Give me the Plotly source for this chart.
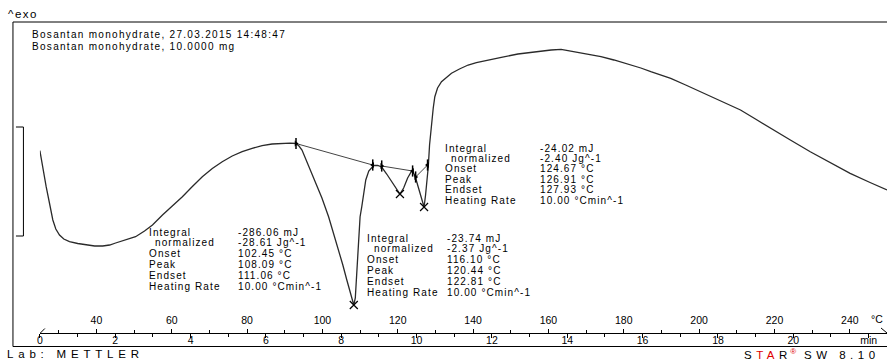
import plotly.graph_objects as go

W, H = 887, 361

# ---------------- data ----------------
time_min = [0.0, 0.079, 0.167, 0.265, 0.344, 0.423, 0.521, 0.635, 0.786, 1.005,
            1.225, 1.455, 1.667, 1.852, 2.011, 2.275, 2.540, 2.778, 2.989, 3.254,
            3.519, 3.783, 4.048, 4.312, 4.577, 4.841, 5.106, 5.370, 5.635, 5.899,
            6.164, 6.429, 6.640, 6.799, 6.878, 6.958, 7.116, 7.302, 7.487, 7.664,
            7.804, 7.929, 8.042, 8.148, 8.228, 8.294, 8.333, 8.373, 8.413, 8.439,
            8.500, 8.545, 8.598, 8.651, 8.730, 8.810, 8.862, 8.968, 9.074, 9.206,
            9.339, 9.471, 9.558, 9.656, 9.762, 9.868, 9.921, 9.974, 10.053, 10.132,
            10.198, 10.238, 10.278, 10.310, 10.344, 10.397, 10.442, 10.484, 10.556, 10.661,
            10.794, 10.926, 11.138, 11.368, 11.587, 11.807, 12.249, 12.690, 13.130, 13.571,
            13.836, 14.188, 14.524, 14.894, 15.238, 15.601, 15.952, 16.217, 16.746, 17.143,
            17.540, 18.069, 18.598, 18.995, 19.392, 19.921, 20.450, 20.979, 21.508, 22.037,
            22.487]
heat_flow = [210.3, 191, 174.3, 156, 141, 132, 126, 122, 119.3, 117.5,
             116, 115, 115, 116, 118, 121, 124.3, 130, 136, 146,
             155, 164.3, 174.5, 184.3, 192.5, 199.3, 205, 209.3, 212.7, 215.3,
             217, 217.7, 217.8, 217.5, 215, 211, 197, 181, 163, 144.3,
             127, 111, 96, 81, 69, 59, 56, 63, 89, 114.3,
             144.3, 154.3, 168, 181, 190, 194, 195.5, 195.5, 194, 187,
             179, 171, 167, 173, 183, 190, 188, 183, 173, 161,
             154, 166, 181, 194.3, 216, 237.7, 253, 264.3, 273, 279.3,
             284, 287.7, 292, 296, 298.3, 300.3, 303.7, 307, 309.3, 311,
             311.7, 309.3, 307, 304.3, 301, 297, 293, 289.3, 282.7, 276,
             269.3, 260.5, 251, 242, 232.7, 221, 209.3, 198.5, 187.7, 178.5,
             171]

# integration limits (left / right) and peaks
lim_left_t = [6.799, 9.074, 9.974]
lim_left_y = [217.5, 195, 184]
lim_right_t = [8.836, 9.894, 10.291]
lim_right_y = [196, 190, 196]
peak_t = [8.333, 9.558, 10.198]
peak_y = [56, 167, 154]

# axis ticks
min_ticks = [0, 2, 4, 6, 8, 10, 12, 14, 16, 18, 20, 22]
min_labels = ["0", "2", "4", "6", "8", "10", "12", "14", "16", "18", "20", "min"]
min_minor = [1, 3, 5, 7, 9, 11, 13, 15, 17, 19, 21]
temp_ticks = [40, 60, 80, 100, 120, 140, 160, 180, 200, 220, 240]
temp_minor = [30, 50, 70, 90, 110, 130, 150, 170, 190, 210, 230]

# evaluation tables
row_labels = ["Integral", "normalized", "Onset", "Peak", "Endset", "Heating Rate"]
eval1 = ["-286.06 mJ", "-28.61 Jg^-1", "102.45 °C", "108.09 °C", "111.06 °C", "10.00 °Cmin^-1"]
eval2 = ["-23.74 mJ", "-2.37 Jg^-1", "116.10 °C", "120.44 °C", "122.81 °C", "10.00 °Cmin^-1"]
eval3 = ["-24.02 mJ", "-2.40 Jg^-1", "124.67 °C", "126.91 °C", "127.93 °C", "10.00 °Cmin^-1"]

header = ["Bosantan monohydrate, 27.03.2015 14:48:47", "Bosantan monohydrate, 10.0000 mg"]

# ---------------- figure ----------------
FONT = "Liberation Sans, Arial, sans-serif"
CURVE = "#2a2a2a"

def px(x):
    return x / W

def py(y):
    return 1 - y / H

fig = go.Figure()

fig.add_trace(go.Scatter(x=time_min, y=heat_flow, mode="lines",
                         line=dict(color=CURVE, width=1.3), hoverinfo="skip"))

for i in range(3):
    fig.add_trace(go.Scatter(x=[lim_left_t[i], lim_right_t[i]], y=[lim_left_y[i], lim_right_y[i]],
                             mode="lines", line=dict(color="#444", width=1), hoverinfo="skip"))

fig.add_trace(go.Scatter(x=lim_left_t + lim_right_t, y=lim_left_y + lim_right_y, mode="markers",
                         marker=dict(symbol="line-ns", size=8, line=dict(color="black", width=1.5)),
                         hoverinfo="skip"))
fig.add_trace(go.Scatter(x=lim_left_t, y=lim_left_y, mode="markers",
                         marker=dict(symbol="triangle-right", size=5, color="black"), hoverinfo="skip"))
fig.add_trace(go.Scatter(x=lim_right_t, y=lim_right_y, mode="markers",
                         marker=dict(symbol="triangle-left", size=5, color="black"), hoverinfo="skip"))
fig.add_trace(go.Scatter(x=peak_t, y=peak_y, mode="markers",
                         marker=dict(symbol="x-thin", size=8, line=dict(color="black", width=1.2)),
                         hoverinfo="skip"))

# dummy trace to bind the temperature axis
fig.add_trace(go.Scatter(x=[25, 249.87], y=[None, None], xaxis="x2", yaxis="y",
                         mode="lines", hoverinfo="skip"))

AXIS_Y = 332.5
t_max = (W - 37) / 37.8
fig.update_layout(
    width=W, height=H, margin=dict(l=0, r=0, t=0, b=0), autosize=False,
    paper_bgcolor="white", plot_bgcolor="white", showlegend=False,
    font=dict(family=FONT, color="black"),
    xaxis=dict(domain=[37 / W, 1], range=[0, t_max], anchor="free", position=py(AXIS_Y),
               showline=True, linecolor="black", linewidth=1, showgrid=False, zeroline=False,
               ticks="outside", ticklen=4, tickwidth=1, tickcolor="black", ticklabelstandoff=-6,
               tickvals=min_ticks, ticktext=min_labels, tickfont=dict(size=10.5, family=FONT),
               minor=dict(tickvals=min_minor, ticks="outside", ticklen=3, tickcolor="black")),
    xaxis2=dict(domain=[37 / W, 1], range=[25, 25 + 10 * t_max], anchor="free", position=py(AXIS_Y),
                overlaying="x", side="top", showline=False, showgrid=False, zeroline=False,
                ticks="outside", ticklen=4, tickwidth=1, tickcolor="black",
                tickvals=temp_ticks, tickfont=dict(size=10.5, family=FONT),
                minor=dict(tickvals=temp_minor, ticks="outside", ticklen=3, tickcolor="black")),
    yaxis=dict(domain=[0, 1], range=[0, H], visible=False, fixedrange=True),
)

# frame and scale bracket
shapes = [
    dict(type="line", xref="paper", yref="paper", x0=px(10), y0=py(22), x1=px(W), y1=py(22)),
    dict(type="line", xref="paper", yref="paper", x0=px(10), y0=py(22), x1=px(10), y1=py(346.5)),
    dict(type="line", xref="paper", yref="paper", x0=px(10), y0=py(346.5), x1=px(W), y1=py(346.5)),
    dict(type="path", xref="paper", yref="paper",
         path=f"M {px(13)},{py(127)} L {px(20.5)},{py(127)} L {px(20.5)},{py(236)} L {px(13)},{py(236)}"),
    dict(type="line", xref="paper", yref="paper", x0=px(37.5), y0=py(333), x1=px(42), y1=py(328.5)),
    dict(type="line", xref="paper", yref="paper", x0=px(881), y0=py(328), x1=px(887), y1=py(333)),
]
for s in shapes:
    s["line"] = dict(color="black", width=1)
fig.update_layout(shapes=shapes)

def sp(text, ls, color=None):
    style = f"letter-spacing:{ls}px"
    if color:
        style += f";color:{color}"
    return f'<span style="{style}">{text}</span>'

ann = []

def add_text(x, y, text, size=10, ls=1.1, anchor="left"):
    ann.append(dict(x=px(x), y=py(y), xref="paper", yref="paper", text=sp(text, ls) if ls else text,
                    showarrow=False, xanchor=anchor, yanchor="middle",
                    font=dict(size=size, family=FONT, color="black")))

add_text(3, 14.5, "^exo", size=11.5, ls=1.5)
add_text(27, 35, header[0], ls=1.3)
add_text(27, 46.5, header[1], ls=1.3)

blocks = [(144, 234, 232, 10.8, eval1), (363, 444, 238, 10.9, eval2), (441, 537, 148, 10.4, eval3)]
for lx, vx, y0, dy, vals in blocks:
    for i, (lab, val) in enumerate(zip(row_labels, vals)):
        add_text(lx + (7 if i == 1 else 0), y0 + i * dy, lab)
        add_text(vx, y0 + i * dy, val)

add_text(877, 319, "°C", size=10.5, ls=0, anchor="center")
add_text(2, 354, "Lab: METTLER", size=11.5, ls=4.8)

star = (sp("S", 4.5) + sp("TA", 4.5, "#e00000") + sp("R", 3) +
        '<sup><span style="color:#e00000">®</span></sup>' + sp(" SW 8.10", 4.5))
ann.append(dict(x=px(742), y=py(354), xref="paper", yref="paper", text=star, showarrow=False,
                xanchor="left", yanchor="middle", font=dict(size=11.5, family=FONT, color="black")))

fig.update_layout(annotations=ann)
fig.write_html("out.html")
